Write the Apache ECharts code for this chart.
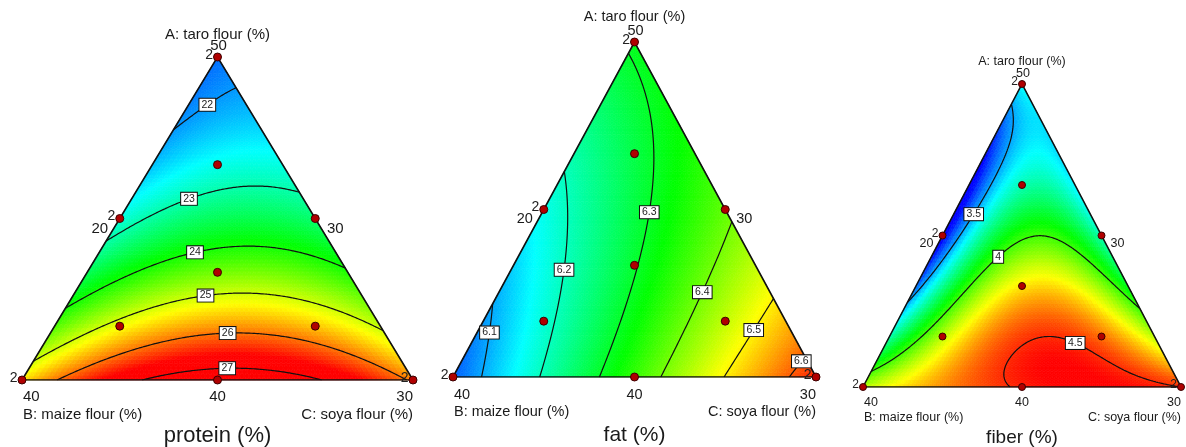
<!DOCTYPE html>
<html>
<head>
<meta charset="utf-8">
<title>Mixture contour plots</title>
<script src="https://cdn.jsdelivr.net/npm/echarts@6/dist/echarts.min.js"></script>
<style>
  html, body { margin: 0; padding: 0; background: #fff; }
  #chart { width: 1186px; height: 447px; }
</style>
</head>
<body>
<div id="chart"></div>
<script>
// components and responses
const components = ['A: taro flour (%)', 'B: maize flour (%)', 'C: soya flour (%)'];
const responses = ['protein (%)', 'fat (%)', 'fiber (%)'];
// tick labels: A vertex, left side, right side, B vertex, bottom middle, C vertex
const tickLabels = ['50', '20', '30', '40', '40', '30'];

// Scheffe model coefficients: A, B, C, AB, AC, BC, ABC
const proteinCoef = [21.79, 25.4, 25.9, -3.46, -2.1, 6.8, 0];
const fatCoef = [6.31, 6.05, 6.64, -0.04, -0.35, 0.05, 0];
const fiberCoef = [3.62, 4.15, 4.5, -2.5, -1.42, 0.757, 14.2];

// contour levels
const proteinLevels = [22, 23, 24, 25, 26, 27];
const fatLevels = [6.1, 6.2, 6.3, 6.4, 6.5, 6.6];
const fiberLevels = [3.5, 4, 4.5];

// colour scale range (blue -> red)
const proteinRange = [21.2, 26.6];
const fatRange = [5.99, 6.66];
const fiberRange = [3.3, 4.55];

// design points (pseudo components) and replicates
const designA = [1, 0, 0, 0.5, 0.5, 0, 1 / 3, 2 / 3, 1 / 6, 1 / 6];
const designB = [0, 1, 0, 0.5, 0, 0.5, 1 / 3, 1 / 6, 2 / 3, 1 / 6];
const designC = [0, 0, 1, 0, 0.5, 0.5, 1 / 3, 1 / 6, 1 / 6, 2 / 3];
const replicates = [2, 2, 2, 2, 1, 1, 1, 1, 1, 1];

const FONT = '"Liberation Sans", Arial, sans-serif';

function model(coef, a, b, c) {
  return coef[0] * a + coef[1] * b + coef[2] * c +
    coef[3] * a * b + coef[4] * a * c + coef[5] * b * c + coef[6] * a * b * c;
}
// B at (0,0), C at (1,0), A at (0.5,1)
function xy(a, c) { return [c + a / 2, a]; }

function fieldData(coef, N) {
  const out = [];
  const P = (r, q) => xy(r / N, q / N);
  const cell = t => {
    const cx = (t[0][0] + t[1][0] + t[2][0]) / 3;
    const cy = (t[0][1] + t[1][1] + t[2][1]) / 3;
    const a = cy, c = cx - cy / 2, b = 1 - a - c;
    return [cx, cy, model(coef, a, b, c), t[0][0], t[0][1], t[1][0], t[1][1], t[2][0], t[2][1]];
  };
  for (let r = 0; r < N; r++) {
    for (let q = 0; q < N - r; q++) {
      out.push(cell([P(r, q), P(r, q + 1), P(r + 1, q)]));
      if (q < N - r - 1) out.push(cell([P(r, q + 1), P(r + 1, q), P(r + 1, q + 1)]));
    }
  }
  return out;
}

function contourLines(coef, level, N) {
  const V = [];
  for (let r = 0; r <= N; r++) {
    V[r] = [];
    for (let q = 0; q <= N - r; q++) {
      const a = r / N, c = q / N;
      V[r][q] = { id: r * (N + 1) + q, p: xy(a, c), v: model(coef, a, 1 - a - c, c) };
    }
  }
  const segs = [];
  const tri = (A, B, C) => {
    const pts = [];
    [[A, B], [B, C], [C, A]].forEach(([u, w]) => {
      if ((u.v >= level) !== (w.v >= level)) {
        const [m, n] = u.id < w.id ? [u, w] : [w, u];
        const t = (level - m.v) / (n.v - m.v);
        pts.push([m.p[0] + t * (n.p[0] - m.p[0]), m.p[1] + t * (n.p[1] - m.p[1])]);
      }
    });
    if (pts.length === 2) segs.push(pts);
  };
  for (let r = 0; r < N; r++) {
    for (let q = 0; q < N - r; q++) {
      tri(V[r][q], V[r][q + 1], V[r + 1][q]);
      if (q < N - r - 1) tri(V[r][q + 1], V[r + 1][q], V[r + 1][q + 1]);
    }
  }
  // chain segments into polylines
  const key = p => p[0].toFixed(7) + ',' + p[1].toFixed(7);
  const map = new Map();
  segs.forEach((s, i) => s.forEach(p => {
    const k = key(p);
    if (!map.has(k)) map.set(k, []);
    map.get(k).push(i);
  }));
  const used = new Array(segs.length).fill(false);
  const lines = [];
  const extend = (pts, atEnd) => {
    for (;;) {
      const end = atEnd ? pts[pts.length - 1] : pts[0];
      const j = map.get(key(end)).find(i => !used[i]);
      if (j === undefined) break;
      used[j] = true;
      const next = key(segs[j][0]) === key(end) ? segs[j][1] : segs[j][0];
      if (atEnd) pts.push(next); else pts.unshift(next);
    }
  };
  for (let i = 0; i < segs.length; i++) {
    if (used[i]) continue;
    used[i] = true;
    const line = [segs[i][0], segs[i][1]];
    extend(line, true);
    extend(line, false);
    lines.push(line);
  }
  return lines;
}

const panels = [
  {
    coef: proteinCoef, levels: proteinLevels, range: proteinRange, title: responses[0],
    box: { left: 22, top: 57, width: 391, height: 323 },
    fs: 15, titleFs: 22, dot: 8, repFs: 14,
    off: { name: -22, top: -11, side: [20, 10], tick: 17, axis: 35, title: 56 },
    hints: [[0.465, 0.867], [0.425, 0.576], [0.437, 0.409], [0.465, 0.279], [0.524, 0.164], [0.524, 0.059]]
  },
  {
    coef: fatCoef, levels: fatLevels, range: fatRange, title: responses[1],
    box: { left: 453, top: 42, width: 363, height: 335 },
    fs: 14.5, titleFs: 21, dot: 8, repFs: 14,
    off: { name: -25, top: -11, side: [19, 9], tick: 18, axis: 35, title: 58 },
    hints: [[0.096, 0.131], [0.306, 0.319], [0.540, 0.490], [0.680, 0.257], [0.821, 0.143], [0.950, 0.057]]
  },
  {
    coef: fiberCoef, levels: fiberLevels, range: fiberRange, title: responses[2],
    box: { left: 863, top: 84, width: 318, height: 303 },
    fs: 12.5, titleFs: 19, dot: 7, repFs: 12,
    off: { name: -22, top: -10, side: [16, 8], tick: 16, axis: 31, title: 51 },
    hints: [[0.349, 0.568], [0.425, 0.429], [0.676, 0.165]]
  }
];

const option = {
  animation: false,
  grid: [], xAxis: [], yAxis: [], visualMap: [], series: []
};

panels.forEach((pn, k) => {
  option.grid.push(Object.assign({ show: false }, pn.box));
  option.xAxis.push({ type: 'value', gridIndex: k, min: 0, max: 1, show: false });
  option.yAxis.push({ type: 'value', gridIndex: k, min: 0, max: 1, show: false });

  // coloured response surface
  const fieldIdx = option.series.length;
  option.series.push({
    type: 'custom', xAxisIndex: k, yAxisIndex: k, silent: true, z: 1, clip: false,
    progressive: 0,
    encode: { x: 0, y: 1 },
    data: fieldData(pn.coef, 80),
    renderItem: (params, api) => {
      const pts = [
        api.coord([api.value(3), api.value(4)]),
        api.coord([api.value(5), api.value(6)]),
        api.coord([api.value(7), api.value(8)])
      ];
      const col = api.visual('color');
      return { type: 'polygon', shape: { points: pts }, style: { fill: col, stroke: col, lineWidth: 0.7 } };
    }
  });
  option.visualMap.push({
    type: 'continuous', show: false, seriesIndex: fieldIdx, dimension: 2,
    min: pn.range[0], max: pn.range[1],
    inRange: { color: ['#0000ff', '#00ffff', '#00ff00', '#ffff00', '#ff0000'] }
  });

  // contour lines and their labels
  const labelData = [];
  const lineData = [];
  pn.levels.forEach((lv, i) => {
    const lines = contourLines(pn.coef, lv, 150);
    lines.forEach(l => lineData.push({ coords: l }));
    const h = pn.hints[i];
    let best = null, bd = Infinity;
    lines.forEach(l => l.forEach(p => {
      const d = Math.pow((p[0] - h[0]) * pn.box.width, 2) + Math.pow((p[1] - h[1]) * pn.box.height, 2);
      if (d < bd) { bd = d; best = p; }
    }));
    if (best) labelData.push([best[0], best[1], lv]);
  });
  option.series.push({
    type: 'lines', coordinateSystem: 'cartesian2d', xAxisIndex: k, yAxisIndex: k,
    polyline: true, silent: true, z: 2,
    lineStyle: { color: '#111', width: 1.2, opacity: 1 },
    data: lineData
  });

  // triangle outline
  option.series.push({
    type: 'lines', coordinateSystem: 'cartesian2d', xAxisIndex: k, yAxisIndex: k,
    polyline: true, silent: true, z: 3,
    lineStyle: { color: '#111', width: 1.6, opacity: 1 },
    data: [{ coords: [[0, 0], [1, 0], [0.5, 1], [0, 0]] }]
  });

  option.series.push({
    type: 'custom', xAxisIndex: k, yAxisIndex: k, silent: true, z: 4, clip: false,
    encode: { x: 0, y: 1 },
    data: labelData,
    renderItem: (params, api) => {
      const p = api.coord([api.value(0), api.value(1)]);
      return {
        type: 'text', x: p[0], y: p[1],
        style: {
          text: String(api.value(2)), align: 'center', verticalAlign: 'middle',
          font: '10.5px ' + FONT, fill: '#222',
          backgroundColor: '#fff', borderColor: '#111', borderWidth: 1, padding: [1, 2, 0, 2]
        }
      };
    }
  });

  // design points
  option.series.push({
    type: 'scatter', xAxisIndex: k, yAxisIndex: k, silent: true, z: 5,
    symbolSize: pn.dot,
    itemStyle: { color: '#b00000', borderColor: '#3a0000', borderWidth: 1, opacity: 1 },
    label: {
      show: true, position: 'left', distance: 0, offset: [0, -2],
      fontFamily: FONT, fontSize: pn.repFs, color: '#222',
      formatter: p => (p.value[2] > 1 ? String(p.value[2]) : '')
    },
    data: designA.map((a, i) => [designC[i] + a / 2, a, replicates[i]])
  });

  // axis texts
  const o = pn.off;
  const texts = [
    { at: [0.5, 1], text: components[0], dx: 0, dy: o.name, align: 'center', size: pn.fs },
    { at: [0.5, 1], text: tickLabels[0], dx: 1, dy: o.top, align: 'center', size: pn.fs },
    { at: [0.25, 0.5], text: tickLabels[1], dx: -o.side[0], dy: o.side[1], align: 'center', size: pn.fs },
    { at: [0.75, 0.5], text: tickLabels[2], dx: o.side[0], dy: o.side[1], align: 'center', size: pn.fs },
    { at: [0, 0], text: tickLabels[3], dx: 1, dy: o.tick, align: 'left', size: pn.fs },
    { at: [0.5, 0], text: tickLabels[4], dx: 0, dy: o.tick, align: 'center', size: pn.fs },
    { at: [1, 0], text: tickLabels[5], dx: 0, dy: o.tick, align: 'right', size: pn.fs },
    { at: [0, 0], text: components[1], dx: 1, dy: o.axis, align: 'left', size: pn.fs },
    { at: [1, 0], text: components[2], dx: 0, dy: o.axis, align: 'right', size: pn.fs },
    { at: [0.5, 0], text: pn.title, dx: 0, dy: o.title, align: 'center', size: pn.titleFs }
  ];
  option.series.push({
    type: 'custom', xAxisIndex: k, yAxisIndex: k, silent: true, z: 6, clip: false,
    encode: { x: 0, y: 1 },
    data: texts.map(t => t.at),
    renderItem: (params, api) => {
      const t = texts[params.dataIndex];
      const p = api.coord([api.value(0), api.value(1)]);
      return {
        type: 'text', x: p[0] + t.dx, y: p[1] + t.dy,
        style: { text: t.text, align: t.align, verticalAlign: 'middle', font: t.size + 'px ' + FONT, fill: '#1a1a1a' }
      };
    }
  });
});

const myChart = echarts.init(document.getElementById('chart'));
myChart.setOption(option);
window.addEventListener('resize', function() {
  myChart.resize();
});
</script>
</body>
</html>
